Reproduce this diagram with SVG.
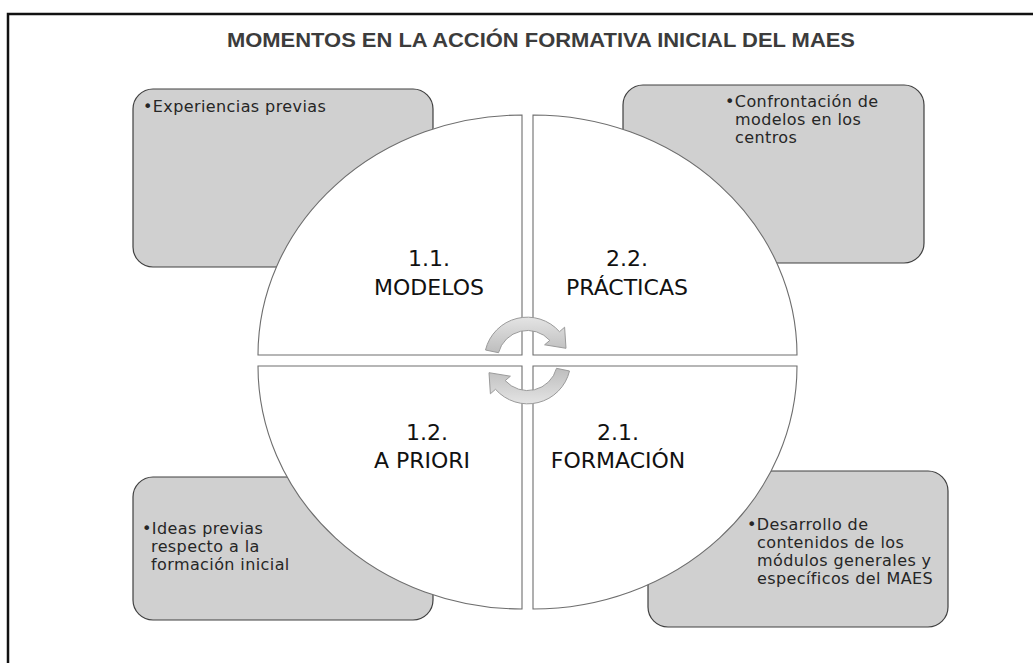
<svg xmlns="http://www.w3.org/2000/svg" width="1033" height="663" viewBox="0 0 1033 663">
<defs>
<style>
.frame{fill:none;stroke:#111;stroke-width:2.5}
.box{fill:#d0d0d0;stroke:#404040;stroke-width:1.2}
.quad{fill:#fff;stroke:#6e6e6e;stroke-width:1.1}
.title{font-family:"Liberation Sans",Arial,sans-serif;font-weight:bold;font-size:20px;fill:#3c3c3c}
.bt{font-family:"DejaVu Sans",Verdana,sans-serif;font-size:16px;letter-spacing:0.4px;fill:#262626}
.qt{font-family:"DejaVu Sans",Verdana,sans-serif;font-size:22px;fill:#111;text-anchor:middle}
.arrow{fill:url(#ag);stroke:#9a9a9a;stroke-width:1}
</style>
<linearGradient id="ag" x1="0" y1="0" x2="0" y2="1">
<stop offset="0" stop-color="#e4e4e4"/>
<stop offset="1" stop-color="#bdbdbd"/>
</linearGradient>
</defs>
<rect width="1033" height="663" fill="#fff"/>
<path class="frame" d="M8,663 V14 H1033"/>
<text class="title" x="541" y="47" text-anchor="middle" textLength="628" lengthAdjust="spacingAndGlyphs">MOMENTOS EN LA ACCIÓN FORMATIVA INICIAL DEL MAES</text>

<g id="box-tl"><rect class="box" x="133" y="89" width="300" height="178" rx="20"/>
<text class="bt" x="143" y="112">•Experiencias previas</text></g>
<g id="box-tr"><rect class="box" x="623" y="85" width="301" height="178" rx="20"/>
<text class="bt" y="107"><tspan x="725">•Confrontación de</tspan><tspan x="735" dy="18">modelos en los</tspan><tspan x="735" dy="18">centros</tspan></text></g>
<g id="box-bl"><rect class="box" x="133" y="477" width="300" height="143" rx="20"/>
<text class="bt" y="534"><tspan x="142">•Ideas previas</tspan><tspan x="151" dy="18">respecto a la</tspan><tspan x="151" dy="18">formación inicial</tspan></text></g>
<g id="box-br"><rect class="box" x="648" y="471" width="300" height="156" rx="20"/>
<text class="bt" y="530"><tspan x="747">•Desarrollo de</tspan><tspan x="757" dy="18">contenidos de los</tspan><tspan x="757" dy="18">módulos generales y</tspan><tspan x="757" dy="18">específicos del MAES</tspan></text></g>

<g id="q-modelos"><path class="quad" d="M522,355 L258,355 A264,240 0 0 1 522,115 Z"/>
<text class="qt"><tspan x="429" y="266">1.1.</tspan><tspan x="429" y="295">MODELOS</tspan></text></g>
<g id="q-practicas"><path class="quad" d="M533,355 L533,115 A264,240 0 0 1 797,355 Z"/>
<text class="qt"><tspan x="627" y="266">2.2.</tspan><tspan x="627" y="295">PRÁCTICAS</tspan></text></g>
<g id="q-formacion"><path class="quad" d="M533,366 L797,366 A264,243 0 0 1 533,609 Z"/>
<text class="qt"><tspan x="618" y="440">2.1.</tspan><tspan x="618" y="468">FORMACIÓN</tspan></text></g>
<g id="q-apriori"><path class="quad" d="M522,366 L522,609 A264,243 0 0 1 258,366 Z"/>
<text class="qt"><tspan x="427" y="440">1.2.</tspan><tspan x="422" y="468">A PRIORI</tspan></text></g>

<g id="connectors">
<path id="arrow-top" class="arrow" d="M485.5,350 A43,43 0 0 1 559.5,331.7 L564.6,327.2 L566,348.3 L544.6,344.8 L549.8,340.4 A30,30 0 0 0 498.5,352.7 Z"/>
<path id="arrow-bottom" class="arrow" transform="rotate(180 527.5 360.5)" d="M485.5,350 A43,43 0 0 1 559.5,331.7 L564.6,327.2 L566,348.3 L544.6,344.8 L549.8,340.4 A30,30 0 0 0 498.5,352.7 Z"/>
</g>
</svg>
